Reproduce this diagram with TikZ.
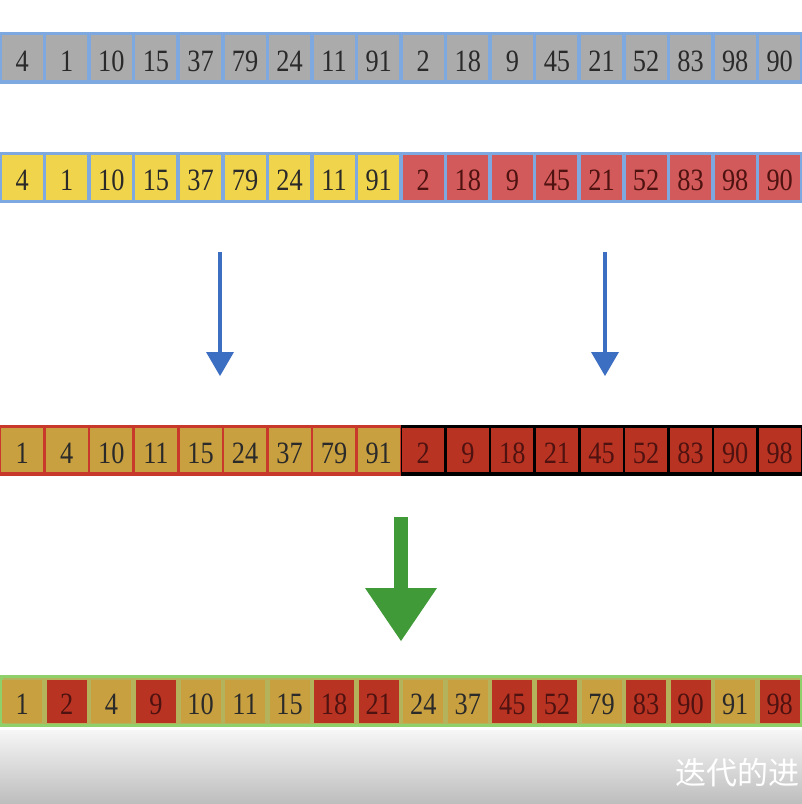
\documentclass[tikz,border=0pt]{standalone}
\usepackage{fontspec}
\setmainfont{Liberation Serif}
\newfontfamily\cjk{Noto Sans CJK SC}
\definecolor{bordBlue}{HTML}{7EA8E0}
\definecolor{cellGray}{HTML}{ABABAB}
\definecolor{cellY}{HTML}{F0D54C}
\definecolor{cellR}{HTML}{D25A5A}
\definecolor{cellM}{HTML}{C9A040}
\definecolor{cellD}{HTML}{B93322}
\definecolor{bordRed}{HTML}{C8392B}
\definecolor{bordGreen}{HTML}{8FD06A}
\definecolor{gapGreen}{HTML}{B4B25A}
\definecolor{txtDark}{HTML}{2A2A2A}
\definecolor{txtRed}{HTML}{4E1210}
\definecolor{arrBlue}{HTML}{3C6EC2}
\definecolor{arrGreen}{HTML}{409A38}
\definecolor{bandTop}{HTML}{F6F6F6}
\definecolor{bandBot}{HTML}{BDBDBD}
\begin{document}
\begin{tikzpicture}[x=1pt,y=-1pt,
  cell/.style={minimum width=41pt, minimum height=45pt, inner sep=0pt,
    text height=27pt, text depth=0pt, font=\fontsize{31}{31}\selectfont},
  colY/.style={fill=cellY, text=txtDark},
  colR/.style={fill=cellR, text=txtRed},
  colM/.style={fill=cellM, text=txtDark},
  colD/.style={fill=cellD, text=txtRed},
  colG/.style={fill=cellGray, text=txtDark}]
\useasboundingbox (0,0) rectangle (802,804);
\fill[white] (0,0) rectangle (802,804);
% row 1
\fill[bordBlue] (0,32) rectangle (802,83.5);
\foreach \v [count=\i from 0] in {4,1,10,15,37,79,24,11,91,2,18,9,45,21,52,83,98,90}
  \node[cell, colG] (ra\i) at ({22.28+44.556*\i},57.5) {\scalebox{0.85}[1]{\v}};
% row 2
\fill[bordBlue] (0,151.5) rectangle (802,203);
\foreach \v/\c [count=\i from 0] in {4/Y,1/Y,10/Y,15/Y,37/Y,79/Y,24/Y,11/Y,91/Y,2/R,18/R,9/R,45/R,21/R,52/R,83/R,98/R,90/R}
  \node[cell, col\c] (rb\i) at ({22.28+44.556*\i},177) {\scalebox{0.85}[1]{\v}};
% blue arrows
\coordinate (bls) at (220,252); \coordinate (ble) at (220,352);
\coordinate (brs) at (605,252); \coordinate (bre) at (605,352);
\draw[arrBlue, line width=3.5pt] (bls) -- (ble);
\draw[arrBlue, line width=3.5pt] (brs) -- (bre);
\fill[arrBlue] ([xshift=-14pt]ble) -- ([xshift=14pt]ble) -- ([yshift=-24pt]ble) -- cycle;
\fill[arrBlue] ([xshift=-14pt]bre) -- ([xshift=14pt]bre) -- ([yshift=-24pt]bre) -- cycle;
% row 3
\fill[bordRed] (0,425) rectangle (401,475.5);
\fill[black] (401,425) rectangle (802,475.5);
\foreach \v/\c [count=\i from 0] in {1/M,4/M,10/M,11/M,15/M,24/M,37/M,79/M,91/M,2/D,9/D,18/D,21/D,45/D,52/D,83/D,90/D,98/D}
  \node[cell, col\c, minimum width=42pt, minimum height=44pt] (rc\i) at ({22.28+44.556*\i},450.25) {\scalebox{0.85}[1]{\v}};
% green arrow
\coordinate (gs) at (401,517); \coordinate (ge) at (401,588);
\draw[arrGreen, line width=14pt] (gs) -- (ge);
\fill[arrGreen] ([xshift=-36pt]ge) -- ([xshift=36pt]ge) -- ([yshift=-53pt]ge) -- cycle;
% row 4
\fill[bordGreen] (0,675) rectangle (802,727);
\fill[gapGreen] (2.5,678) rectangle (799.5,724);
\foreach \v/\c [count=\i from 0] in {1/M,2/D,4/M,9/D,10/M,11/M,15/M,18/D,21/D,24/M,37/M,45/D,52/D,79/M,83/D,90/D,91/M,98/D}
  \node[cell, col\c, minimum width=40pt, minimum height=43pt, text height=26pt] (rd\i) at ({22.28+44.556*\i},701) {\scalebox{0.85}[1]{\v}};
% bottom band
\shade[top color=bandTop, bottom color=bandBot] (0,730) rectangle (802,804);
\node[anchor=east, inner sep=0pt, text=white, font=\cjk\fontsize{31}{31}\selectfont] (cap) at (800,773) {迭代的进};
\end{tikzpicture}
\end{document}
